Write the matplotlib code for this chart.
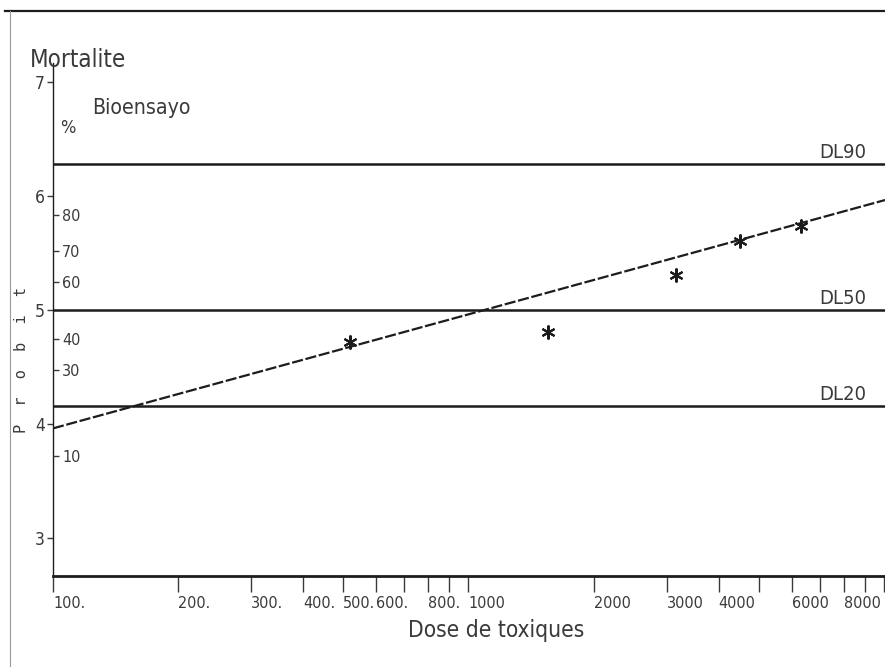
import matplotlib
matplotlib.use("Agg")
import matplotlib.pyplot as plt
from matplotlib.lines import Line2D
from matplotlib import transforms

# Bioassay observations: dose vs. probit of mortality
dose = [520, 1550, 3150, 4500, 6300]
probit = [4.72, 4.81, 5.31, 5.61, 5.74]

# Fitted probit regression line (end points on the log-dose axis)
fit_dose = [100, 10060]
fit_probit = [3.965, 5.968]

# Probit axis and matching mortality percentages
probit_ticks = [3, 4, 5, 6, 7]
pct_labels = ["10", "30", "40", "60", "70", "80"]
pct_probit = [3.72, 4.48, 4.75, 5.25, 5.52, 5.84]

# Lethal-dose reference levels
dl_names = ["DL20", "DL50", "DL90"]
dl_probit = [4.16, 5.00, 6.28]
floor_probit = 2.67   # 1 % mortality, used as the dose axis
top_probit = 7.17

dose_ticks = [100, 200, 300, 400, 500, 600, 700, 800, 900,
              1000, 2000, 3000, 4000, 5000, 6000, 7000, 8000, 9000, 10000]
dose_labels = ["100.", "200.", "300.", "400.", "500.", "600.", "", "800.", "",
               "1000", "2000", "3000", "4000", "", "6000", "", "8000", "", ""]

MONO = ["DejaVu Sans Mono", "DejaVu Sans"]
COND = dict(family=["DejaVu Sans", "DejaVu Sans Mono"], stretch="condensed")
INK = "#1c1c1c"
SOFT = "#3a3a3a"
plt.rcParams["font.family"] = MONO


def narrow(labels, size):
    for lab in labels:
        lab.set_family(COND["family"])
        lab.set_stretch(COND["stretch"])
        lab.set_fontsize(size)


W, H = 885, 667
fig = plt.figure(figsize=(W / 100, H / 100), dpi=100)
fig.patch.set_facecolor("white")
ax = fig.add_axes([53 / W, 91 / H, 832 / W, 513 / H])
ax.set_xscale("log")
ax.set_xlim(100, 10056)
ax.set_ylim(floor_probit, top_probit)

for side in ("top", "right"):
    ax.spines[side].set_visible(False)
ax.spines["left"].set_color(INK)
ax.spines["left"].set_linewidth(1.0)
ax.spines["bottom"].set_color(INK)
ax.spines["bottom"].set_linewidth(2.0)

# dose axis
ax.xaxis.set_major_locator(matplotlib.ticker.FixedLocator(dose_ticks))
ax.xaxis.set_minor_locator(matplotlib.ticker.NullLocator())
ax.set_xticklabels(dose_labels)
ax.tick_params(axis="x", direction="out", length=11.5, width=1.0, color=SOFT,
               pad=3.0, labelcolor=SOFT)
for lab in ax.get_xticklabels():
    lab.set_horizontalalignment("left")
narrow(ax.get_xticklabels(), 11.5)

# probit axis
ax.set_yticks(probit_ticks)
ax.set_yticklabels([str(v) for v in probit_ticks])
ax.tick_params(axis="y", direction="out", length=4.3, width=1.0, color=SOFT,
               pad=1.5, labelcolor=SOFT)
narrow(ax.get_yticklabels(), 12.5)

# percentage scale on the inner side of the probit axis
ax2 = ax.twinx()
ax2.set_ylim(ax.get_ylim())
for side in ("top", "left", "bottom"):
    ax2.spines[side].set_visible(False)
ax2.spines["right"].set_position(("axes", 0))
ax2.spines["right"].set_visible(False)
ax2.set_yticks(pct_probit)
ax2.set_yticklabels(pct_labels)
ax2.tick_params(axis="y", direction="out", length=4.3, width=1.0, color=SOFT,
                pad=2.2, labelcolor=SOFT)
narrow(ax2.get_yticklabels(), 11.5)

# lethal-dose levels
lbl_shift = transforms.offset_copy(
    transforms.blended_transform_factory(ax.transAxes, ax.transData),
    fig=fig, x=0, y=6, units="dots")
for name, lvl in zip(dl_names, dl_probit):
    ax.axhline(lvl, color=INK, lw=1.8)
    ax.text(0.977, lvl, name, transform=lbl_shift, ha="right", va="baseline",
            fontsize=14.5, color=SOFT, **COND)

# regression line and observed points
ax.plot(fit_dose, fit_probit, color=INK, lw=1.6, ls=(0, (5, 1.2)))
ax.plot(dose, probit, ls="none", marker=(6, 2, 0), markersize=10,
        markeredgewidth=1.5, color=INK)

ax.set_xlabel("Dose de toxiques", fontsize=16.3, color=SOFT, **COND)
ax.xaxis.set_label_coords(0.533, -0.083)
ax.set_ylabel("P  r  o  b  i  t", fontsize=11, color=SOFT)
ax.yaxis.set_label_coords(-0.029, 0.421)

fig.text(30 / W, 1 - 67 / H, "Mortalite", fontsize=17.3, color=SOFT,
         ha="left", va="baseline", **COND)
fig.text(92 / W, 1 - 114 / H, "Bioensayo", fontsize=15.3, color=SOFT,
         ha="left", va="baseline", **COND)
fig.text(60 / W, 1 - 133 / H, "%", fontsize=13, color=SOFT,
         ha="left", va="baseline", **COND)

# printout border
fig.add_artist(Line2D([5 / W, 1], [1 - 11 / H, 1 - 11 / H], color=INK, lw=1.6))
fig.add_artist(Line2D([10 / W, 10 / W], [0, 1 - 11 / H], color="#9a9a9a", lw=0.8))

fig.savefig("out.png", dpi=100, facecolor="white")
